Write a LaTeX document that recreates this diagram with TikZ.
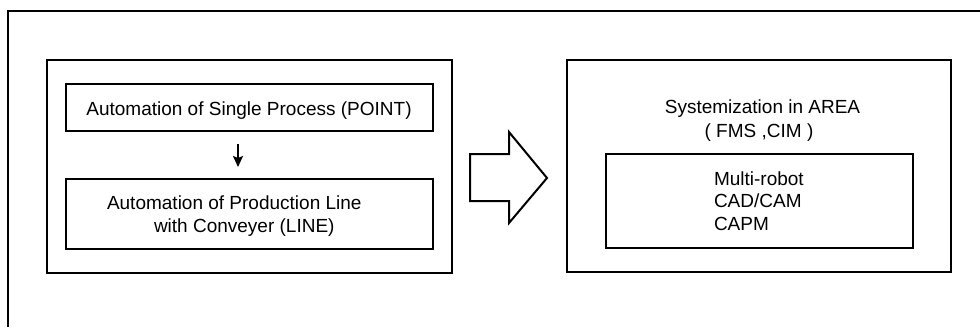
\documentclass[tikz,border=0pt]{standalone}
\usepackage{fontspec}
\setmainfont{Liberation Sans}
\usetikzlibrary{arrows.meta}
\begin{document}
\begin{tikzpicture}[x=1pt,y=-1pt,
  line width=2pt,
  box/.style={draw,line width=2pt,rectangle,inner sep=0pt},
  lbl/.style={inner sep=0pt,font=\fontsize{19}{22}\selectfont}]
\useasboundingbox (0,0) rectangle (980,327);
% open outer frame (top and left edges)
\draw (8,327) -- (8,11) -- (980,11);
% left group: point-level and line-level automation
\node[box,minimum width=405pt,minimum height=213pt] (lgroup) at (249.5,166.5) {};
\node[box,minimum width=367pt,minimum height=47pt] (point) at (249.5,107.5) {};
\node[box,minimum width=367pt,minimum height=70pt] (line) at (249.5,214) {};
\node[lbl,anchor=base] (pointtxt) at (249,115) {Automation of Single Process (POINT)};
\node[lbl,anchor=base west] (linetxt1) at (106,209) {Automation of Production Line};
\node[lbl,anchor=base west] (linetxt2) at (153,232) {with Conveyer (LINE)};
\coordinate (ax) at (238,0);
\draw[-{Stealth[length=11pt,width=10pt,inset=2pt]},line width=1.8pt,shorten <=12pt,shorten >=11pt]
  (point.south -| ax) -- (line.north -| ax);
% transition arrow
\draw[line width=2pt,line join=miter]
  (470,154) -- (509,154) -- (509,132) -- (547,178) -- (509,223) -- (509,201) -- (470,201) -- cycle;
% right group: area-level systemization
\node[box,minimum width=384pt,minimum height=212pt] (rgroup) at (759,166) {};
\node[lbl,anchor=base] (areatxt) at (762.5,113) {Systemization in AREA};
\node[lbl,anchor=base] (fmstxt) at (759,137) {( FMS ,CIM )};
\node[box,minimum width=307pt,minimum height=94pt] (tools) at (759.5,201) {};
\node[lbl,anchor=base west] (t1) at (713,185) {Multi-robot};
\node[lbl,anchor=base west] (t2) at (713,207) {CAD/CAM};
\node[lbl,anchor=base west] (t3) at (713,230) {CAPM};
\end{tikzpicture}
\end{document}
